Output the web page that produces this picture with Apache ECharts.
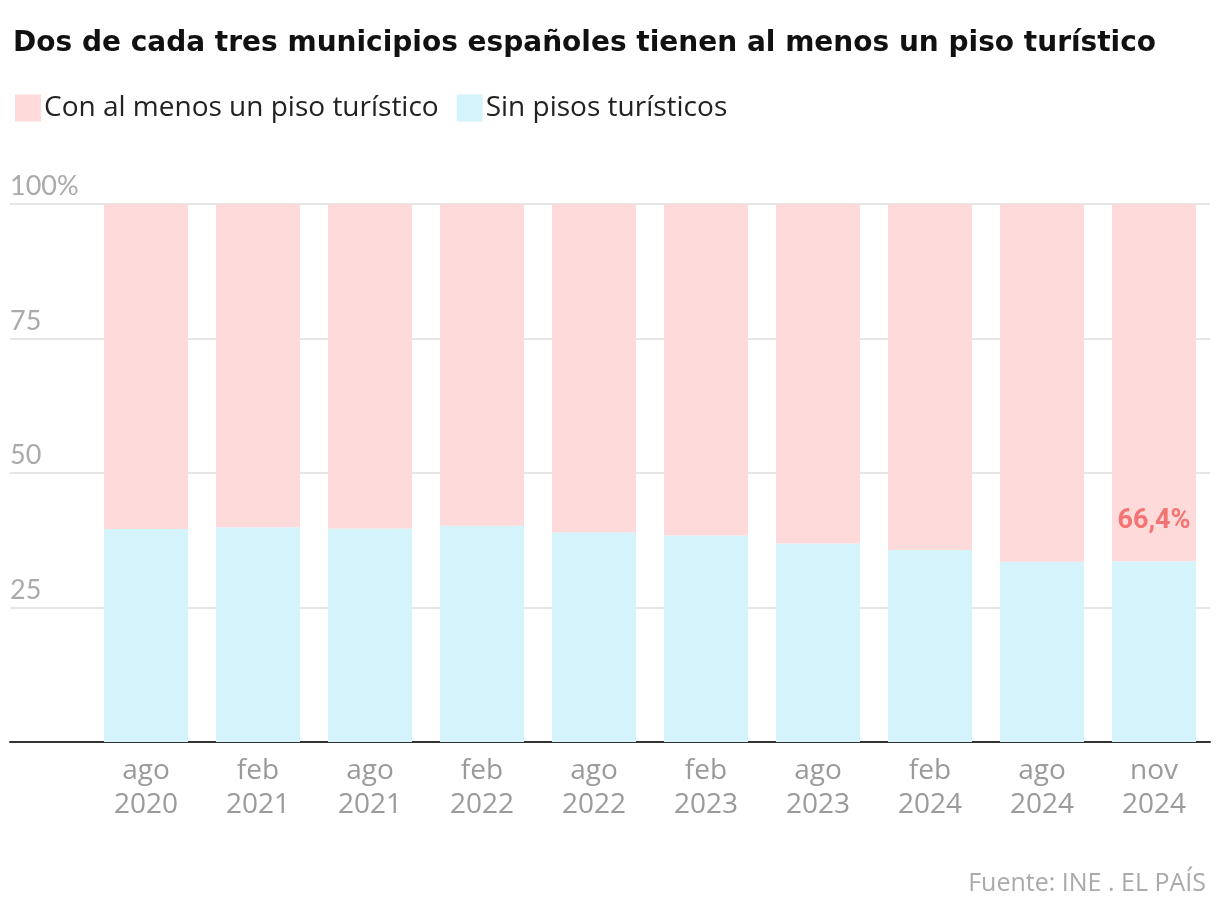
<!DOCTYPE html>
<html><head><meta charset="utf-8">
<script src="https://cdn.jsdelivr.net/npm/echarts@6/dist/echarts.min.js"></script>
<style>html,body{margin:0;padding:0;background:#fff}#c{width:1220px;height:912px}</style>
</head><body><div id="c"></div>
<script>
const categories = ['ago\n2020','feb\n2021','ago\n2021','feb\n2022','ago\n2022','feb\n2023','ago\n2023','feb\n2024','ago\n2024','nov\n2024'];
const sinPisos = [39.6, 39.9, 39.7, 40.2, 39.0, 38.4, 36.9, 35.7, 33.5, 33.6];
const conPiso = [60.4, 60.1, 60.3, 59.8, 61.0, 61.6, 63.1, 64.3, 66.5, 66.4];
const yTicks = {0:'', 25:'25', 50:'50', 75:'75', 100:'100%'};

const chart = echarts.init(document.getElementById('c'));
const font = '"Open Sans", Roboto, sans-serif';
chart.setOption({
  animation: false,
  textStyle: {fontFamily: font},
  title: [{
    text: 'Dos de cada tres municipios españoles tienen al menos un piso turístico',
    left: 8, top: 25,
    textStyle: {fontFamily: '"DejaVu Sans", sans-serif', fontWeight: 'bold', fontSize: 28, color: '#111'}
  },{
    text: 'Fuente: INE . EL PAÍS',
    right: 9, top: 866,
    textStyle: {fontFamily: font, fontWeight: 400, fontSize: 25, color: '#aaa'}
  }],
  legend: {
    left: 10, top: 89, itemWidth: 26, itemHeight: 27, itemGap: 18,
    icon: 'rect',
    textStyle: {fontFamily: font, fontSize: 28, color: '#222', padding: [0,0,0,-2]},
    data: ['Con al menos un piso turístico', 'Sin pisos turísticos']
  },
  grid: [
    {left: 90, right: 10, top: 204, height: 538},
    {left: 10, right: 10, top: 204, height: 538}
  ],
  xAxis: [{
    type: 'category', gridIndex: 0, data: categories,
    axisLine: {show: false}, axisTick: {show: false},
    axisLabel: {fontFamily: font, fontSize: 28, color: '#9a9a9a', lineHeight: 34, margin: 12}
  },{
    type: 'category', gridIndex: 1, data: [''],
    axisLine: {show: true, lineStyle: {color: '#333', width: 2}},
    axisTick: {show: false}, axisLabel: {show: false}
  }],
  yAxis: [{
    type: 'value', gridIndex: 0, min: 0, max: 100, interval: 25, show: false
  },{
    type: 'value', gridIndex: 1, min: 0, max: 100, interval: 25,
    axisLine: {show: false}, axisTick: {show: false},
    splitLine: {lineStyle: {color: '#e6e6e6', width: 2}},
    axisLabel: {
      inside: true, verticalAlign: 'bottom', margin: 0, padding: [0,0,4,0],
      fontFamily: 'Lato, sans-serif', fontSize: 27, color: '#aaa',
      formatter: v => yTicks[v]
    }
  }],
  series: [{
    name: 'Sin pisos turísticos', type: 'bar', stack: 's',
    xAxisIndex: 0, yAxisIndex: 0, barCategoryGap: '25%',
    itemStyle: {color: '#d5f3fb'}, data: sinPisos
  },{
    name: 'Con al menos un piso turístico', type: 'bar', stack: 's',
    xAxisIndex: 0, yAxisIndex: 0, barCategoryGap: '25%',
    itemStyle: {color: '#ffdada'},
    data: conPiso.map((v, i) => i === conPiso.length - 1 ? {
      value: v,
      label: {show: true, position: 'insideBottom', distance: 26,
        formatter: p => String(p.value).replace('.', ',') + '%',
        fontFamily: 'Roboto, sans-serif', fontSize: 27, fontWeight: 'bold', color: '#f47474'}
    } : v)
  }]
});
</script></body></html>
